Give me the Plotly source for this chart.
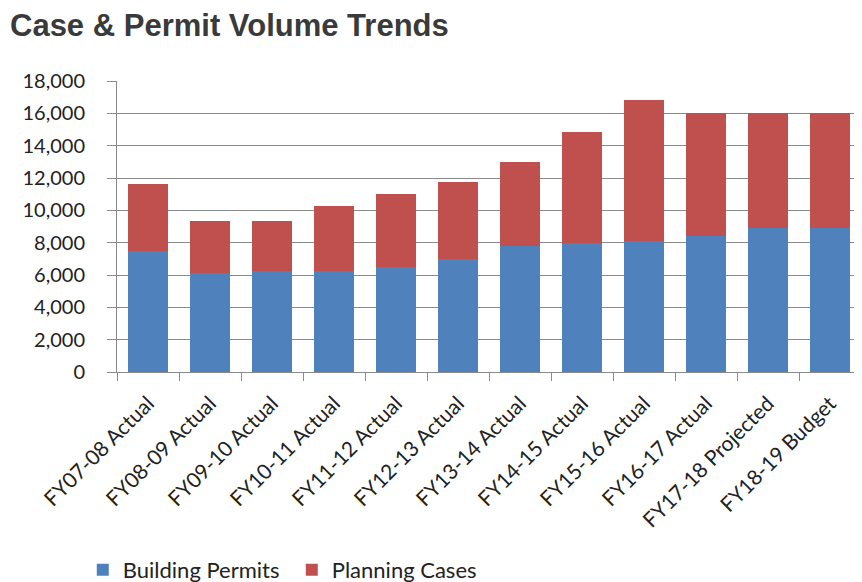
import plotly.graph_objects as go

categories = ["FY07-08 Actual", "FY08-09 Actual", "FY09-10 Actual", "FY10-11 Actual",
              "FY11-12 Actual", "FY12-13 Actual", "FY13-14 Actual", "FY14-15 Actual",
              "FY15-16 Actual", "FY16-17 Actual", "FY17-18 Projected", "FY18-19 Budget"]
building_permits = [7500, 6150, 6270, 6270, 6520, 7010, 7780, 8010, 8130, 8400, 8880, 8880]
planning_cases = [4100, 3220, 3100, 3970, 4470, 4720, 5190, 6850, 8710, 7610, 7120, 7120]
y_ticks = [0, 2000, 4000, 6000, 8000, 10000, 12000, 14000, 16000, 18000]

FONT = "Lato, 'Open Sans', sans-serif"
GRID = "#8a8a8a"

fig = go.Figure()
fig.add_trace(go.Bar(x=categories, y=building_permits, name="Building Permits",
                     marker=dict(color="#4F81BD", line=dict(width=0))))
fig.add_trace(go.Bar(x=categories, y=planning_cases, name="Planning Cases",
                     marker=dict(color="#C0504D", line=dict(width=0))))

fig.update_layout(
    barmode="stack",
    bargap=0.35,
    width=854, height=574,
    margin=dict(l=109, r=1, t=73, b=210, autoexpand=False),
    plot_bgcolor="white", paper_bgcolor="white",
    font=dict(family=FONT, color="#222222", size=20),
    title=dict(text="<b>Case & Permit Volume Trends</b>", x=2/854, xref="container",
               xanchor="left", y=1 - 17/574, yref="container", yanchor="middle",
               pad=dict(l=0, t=0, b=0, r=0),
               font=dict(family="'Liberation Sans', Arial, sans-serif", size=31,
                         color="#3a3a3a", weight=900)),
    showlegend=True,
    legend=dict(orientation="h", x=-0.046, xanchor="left", y=-0.68, yanchor="middle",
                font=dict(size=22, color="#222222"), traceorder="normal",
                entrywidth=164, entrywidthmode="pixels"),
    xaxis=dict(tickangle=-45, tickson="boundaries", ticks="outside", ticklen=8,
               tickcolor=GRID, showline=True, linecolor=GRID, linewidth=1,
               tickfont=dict(size=21), ticklabelstandoff=10, automargin=False),
    yaxis=dict(range=[0, 18000], tickvals=y_ticks, tickformat=",d", showgrid=True,
               gridcolor=GRID, gridwidth=1, ticks="outside", ticklen=9, tickcolor=GRID,
               showline=True, linecolor=GRID, linewidth=1, zeroline=False,
               tickfont=dict(size=20), ticklabelstandoff=18, automargin=False),
)

fig.write_html("out.html")
